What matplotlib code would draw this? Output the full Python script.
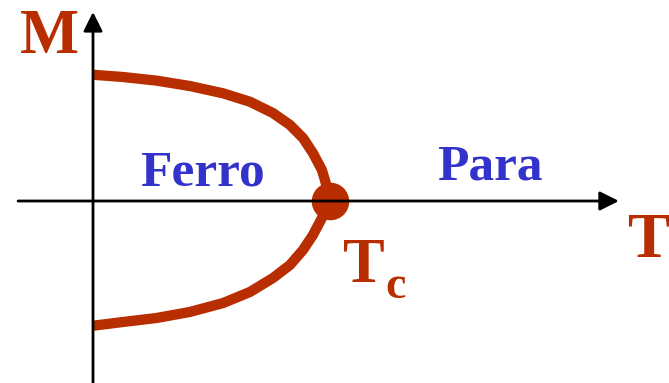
import matplotlib
matplotlib.use("Agg")
import matplotlib.pyplot as plt

# magnetisation curve (T in units of Tc, M in units of M(0))
t_upper = [0.0, 0.127, 0.269, 0.409, 0.549, 0.662, 0.759, 0.831, 0.886, 0.928, 0.966, 0.987, 1.0]
m_upper = [1.006, 0.988, 0.959, 0.916, 0.858, 0.791, 0.701, 0.606, 0.502, 0.382, 0.247, 0.112, 0.0]
t_lower = [1.0, 0.979, 0.966, 0.928, 0.886, 0.831, 0.759, 0.662, 0.549, 0.409, 0.269, 0.127, 0.0]
m_lower = [0.0, -0.056, -0.135, -0.271, -0.39, -0.51, -0.614, -0.725, -0.813, -0.884, -0.932, -0.964, -0.994]
t_c = 1.0

red = "#B82E00"
blue = "#3333CC"
W, H = 669, 383

fig = plt.figure(figsize=(W / 100, H / 100), dpi=100)
ax = fig.add_axes([0, 0, 1, 1])
ax.set_xlim(-93 / 237, 576 / 237)
ax.set_ylim(-182 / 125.5, 201 / 125.5)
ax.axis("off")

arrow = dict(arrowstyle="-|>", lw=2, color="black", mutation_scale=29,
             shrinkA=0, shrinkB=0)
ax.annotate("", xy=(2.219, 0), xytext=(-0.316, 0), arrowprops=arrow)
ax.annotate("", xy=(0, 1.506), xytext=(0, -1.6), arrowprops=arrow)

ax.plot(t_upper + t_lower[1:], m_upper + m_lower[1:], color=red, lw=7.4,
        solid_joinstyle="round", solid_capstyle="butt")
ax.plot([t_c], [0], "o", color=red, ms=26)

font = dict(family="Liberation Serif", weight="bold")


def label(x, y, s, color, size):
    fig.text(x / W, 1 - y / H, s, color=color, fontsize=size,
             ha="left", va="baseline", **font)


label(20, 53, "M", red, 45)
label(627, 257, "T", red, 46)
label(343, 282, "T", red, 45)
label(385, 298, "c", red, 33)
label(140, 185, "Ferro", blue, 37)
label(437, 180, "Para", blue, 37)

fig.savefig("out.png", dpi=100)
